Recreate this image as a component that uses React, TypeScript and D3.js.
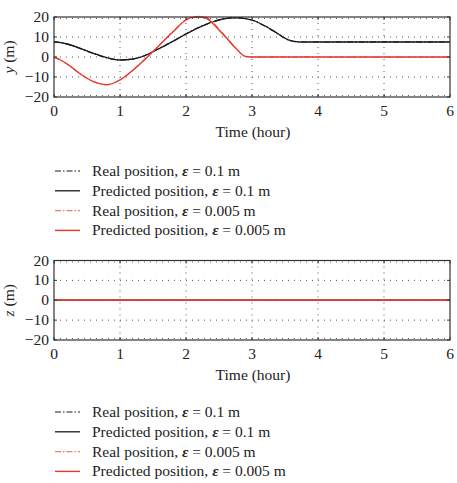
import React from 'react'
import * as d3 from 'd3'

// time samples (hours) and positions (m) for the y axis
const timeY = [0, 0.1, 0.2, 0.4, 0.6, 0.8, 1.0, 1.2, 1.4, 1.5, 1.6, 1.8, 2.0, 2.1, 2.2, 2.3, 2.4, 2.5, 2.6, 2.75, 2.9, 3.0, 3.2, 3.4, 3.55, 3.7, 3.8, 4, 5, 6]
const predYCoarse = [7.5, 7.2, 6.5, 4.3, 1.8, -0.3, -1.5, -1, 1, 2.7, 4.3, 7.8, 11.5, 13.2, 14.8, 16.2, 17.5, 18.5, 19.2, 19.6, 19.2, 18.5, 15.5, 11.5, 8.6, 7.6, 7.5, 7.5, 7.5, 7.5]
const realYCoarse = [7.6, 7.2, 6.4, 4.2, 1.7, -0.4, -1.5, -1, 1.1, 2.7, 4.4, 7.9, 11.6, 13.3, 14.9, 16.3, 17.6, 18.6, 19.3, 19.7, 19.3, 18.4, 15.4, 11.4, 8.5, 7.5, 7.5, 7.5, 7.6, 7.5]
const predYFine = [0, -1.5, -3.5, -8.5, -12.3, -13.8, -11.5, -6.5, -0.5, 2.7, 6, 12.5, 18.5, 19.8, 20, 19.5, 17, 13.5, 10, 4.5, 0.3, 0, 0, 0, 0, 0, 0, 0, 0, 0]
const realYFine = [0, -1.6, -3.6, -8.6, -12.4, -13.9, -11.4, -6.4, -0.4, 2.8, 6.1, 12.6, 18.7, 20, 20.3, 19.9, 17.6, 14, 10.3, 4.7, 0.4, 0.1, 0, 0.1, 0, 0, 0.1, 0, 0, 0]

// z positions stay at zero for the whole run
const timeZ = [0, 1, 2, 3, 4, 5, 6]
const predZCoarse = [0, 0, 0, 0, 0, 0, 0]
const realZCoarse = [0, 0, 0, 0, 0, 0, 0]
const predZFine = [0, 0, 0, 0, 0, 0, 0]
const realZFine = [0, 0, 0, 0, 0, 0, 0]

const xTicks = [0, 1, 2, 3, 4, 5, 6]
const yTicks = [20, 10, 0, -10, -20]
const legendLabels = [
  ['Real position, ', '0.1'],
  ['Predicted position, ', '0.1'],
  ['Real position, ', '0.005'],
  ['Predicted position, ', '0.005'],
]

const BLACK = '#1a1a1a'
const RED = '#e8372c'
const RED_LIGHT = '#f07a70'
const DASHDOT = '6,2,1.5,2'
const FONT = '"Liberation Serif", "Times New Roman", serif'
const FS = 15.5

const styles = [
  { color: BLACK, dash: DASHDOT, width: 1.2 },
  { color: BLACK, dash: null, width: 1.3 },
  { color: RED_LIGHT, dash: DASHDOT, width: 1.2 },
  { color: RED, dash: null, width: 1.4 },
]

const left = 54
const right = 450

function Panel({ top, bottom, time, series, axis }) {
  const x = d3.scaleLinear().domain([0, 6]).range([left, right])
  const y = d3.scaleLinear().domain([-20, 20]).range([bottom, top])
  const line = d3.line<number>()
    .x((d, i) => x(time[i]))
    .y(d => y(d))
    .curve(d3.curveMonotoneX)
  const tickLen = 3
  return (
    <g>
      {xTicks.slice(1, -1).map(t => (
        <line key={'gx' + t} x1={x(t)} x2={x(t)} y1={top} y2={bottom}
          stroke="#555" strokeWidth={1} strokeDasharray="1,5" />
      ))}
      {yTicks.slice(1, -1).map(t => (
        <line key={'gy' + t} x1={left} x2={right} y1={y(t)} y2={y(t)}
          stroke="#555" strokeWidth={1} strokeDasharray="1,5" />
      ))}
      <line x1={left} x2={right} y1={top + 1.5} y2={top + 1.5} stroke="#666" strokeDasharray="1,5" />
      <line x1={left} x2={right} y1={bottom - 1.5} y2={bottom - 1.5} stroke="#666" strokeDasharray="1,5" />
      {series.map((s, i) => (
        <path key={i} d={line(s) || ''} fill="none" stroke={styles[i].color}
          strokeWidth={styles[i].width} strokeDasharray={styles[i].dash || undefined} />
      ))}
      {xTicks.map(t => (
        <g key={'tx' + t}>
          <line x1={x(t)} x2={x(t)} y1={bottom} y2={bottom - tickLen} stroke="#333" />
          <line x1={x(t)} x2={x(t)} y1={top} y2={top + tickLen} stroke="#333" />
          <text x={x(t)} y={bottom + 18.5} textAnchor="middle" fontSize={FS} fontFamily={FONT} fill="#222">{t}</text>
        </g>
      ))}
      {yTicks.map(t => (
        <g key={'ty' + t}>
          <line x1={left} x2={left + tickLen} y1={y(t)} y2={y(t)} stroke="#333" />
          <line x1={right} x2={right - tickLen} y1={y(t)} y2={y(t)} stroke="#333" />
          <text x={49} y={y(t) + 5} textAnchor="end" fontSize={FS} fontFamily={FONT} fill="#222">
            {t < 0 ? '\u2212' + Math.abs(t) : t}
          </text>
        </g>
      ))}
      <rect x={left} y={top} width={right - left} height={bottom - top} fill="none" stroke="#333" strokeWidth={1.2} />
      <text x={253} y={bottom + 40} textAnchor="middle" fontSize={FS} fontFamily={FONT} fill="#222">Time (hour)</text>
      <text transform={`translate(14,${(top + bottom) / 2}) rotate(-90)`} textAnchor="middle"
        fontSize={FS} fontFamily={FONT} fill="#222">
        <tspan fontStyle="italic">{axis}</tspan> (m)
      </text>
    </g>
  )
}

function Legend({ top }) {
  return (
    <g>
      {legendLabels.map(([label, eps], i) => (
        <g key={i} transform={`translate(0,${top + i * 19.8})`}>
          <line x1={55} x2={80} y1={0} y2={0} stroke={styles[i].color}
            strokeWidth={styles[i].width} strokeDasharray={styles[i].dash || undefined} />
          <text x={92} y={5} fontSize={FS} fontFamily={FONT} fill="#222">
            {label}<tspan fontStyle="italic" fontWeight="bold">ε</tspan> = {eps} m
          </text>
        </g>
      ))}
    </g>
  )
}

function App() {
  return (
    <svg width={457} height={483} style={{ position: 'absolute', left: 0, top: 0, background: '#fff' }}>
      <Panel top={17} bottom={97} time={timeY} axis="y"
        series={[realYCoarse, predYCoarse, realYFine, predYFine]} />
      <Legend top={171} />
      <Panel top={260.5} bottom={340} time={timeZ} axis="z"
        series={[realZCoarse, predZCoarse, realZFine, predZFine]} />
      <Legend top={412} />
    </svg>
  )
}

export default App
